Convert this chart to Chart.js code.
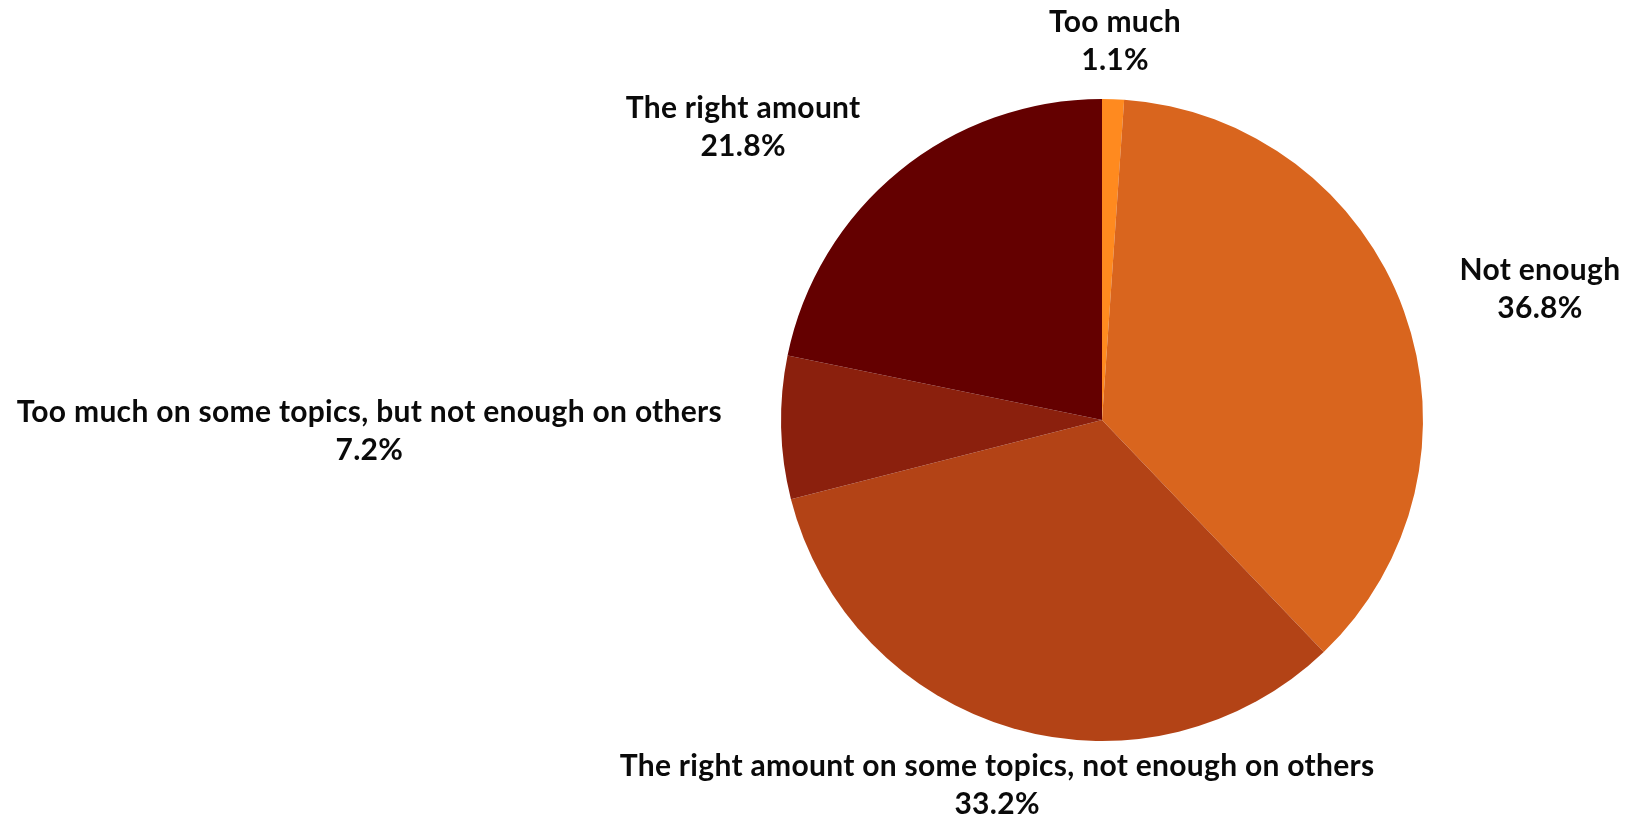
<!DOCTYPE html>
<html>
<head>
<meta charset="utf-8">
<script src="https://cdn.jsdelivr.net/npm/chart.js@4.4.1/dist/chart.umd.min.js"></script>
<style>
  html, body { margin: 0; padding: 0; background: #ffffff; }
  #wrap { width: 1625px; height: 817px; }
</style>
</head>
<body>
<div id="wrap"><canvas id="pie"></canvas></div>
<script>
const answers = [
  'Too much',
  'Not enough',
  'The right amount on some topics, not enough on others',
  'Too much on some topics, but not enough on others',
  'The right amount'
];
const shares = [1.1, 36.8, 33.2, 7.2, 21.8];
const sliceColors = ['#ff8a1f', '#d9651e', '#b34316', '#8b200d', '#640000'];

// outside labels: name on the first line, share on the second
const outsideLabels = {
  id: 'outsideLabels',
  afterDatasetsDraw(chart, args, opts) {
    const ctx = chart.ctx;
    const meta = chart.getDatasetMeta(0);
    const lineH = opts.lineHeight;
    ctx.save();
    ctx.font = opts.font;
    ctx.letterSpacing = opts.letterSpacing;
    ctx.fillStyle = opts.color;
    ctx.textAlign = 'center';
    ctx.textBaseline = 'middle';
    meta.data.forEach((arc, i) => {
      const p = arc.getProps(['x', 'y', 'startAngle', 'endAngle', 'outerRadius'], true);
      const mid = (p.startAngle + p.endAngle) / 2 + (opts.turn[i] || 0) * Math.PI / 180;
      const ux = Math.cos(mid), uy = Math.sin(mid);
      const name = chart.data.labels[i];
      const pct = chart.data.datasets[0].data[i].toFixed(1) + '%';
      const w = Math.max(ctx.measureText(name).width, ctx.measureText(pct).width);
      const h = lineH * 2;
      // distance from the label centre to its box edge along the ray
      const tx = Math.abs(ux) > 1e-6 ? (w / 2) / Math.abs(ux) : Infinity;
      const ty = Math.abs(uy) > 1e-6 ? (h / 2) / Math.abs(uy) : Infinity;
      const d = p.outerRadius + opts.gap[i] + Math.min(tx, ty);
      const cx = p.x + ux * d;
      const cy = p.y + uy * d;
      ctx.fillText(name, cx, cy - lineH / 2);
      ctx.fillText(pct, cx, cy + lineH / 2);
    });
    ctx.restore();
  }
};

new Chart(document.getElementById('pie'), {
  type: 'pie',
  data: {
    labels: answers,
    datasets: [{
      data: shares,
      backgroundColor: sliceColors,
      borderWidth: 0
    }]
  },
  options: {
    responsive: true,
    maintainAspectRatio: false,
    animation: false,
    layout: { padding: { left: 781, right: 202, top: 99, bottom: 76 } },
    plugins: {
      legend: { display: false },
      tooltip: { enabled: false },
      outsideLabels: {
        font: 'bold 30px Lato',
        letterSpacing: '0.3px',
        color: '#0a0a0a',
        lineHeight: 38,
        gap: [20, 52, 20, 59, 82],
        turn: [0, 3.3, 0, 0.5, -11.6]
      }
    }
  },
  plugins: [outsideLabels]
});
</script>
</body>
</html>
